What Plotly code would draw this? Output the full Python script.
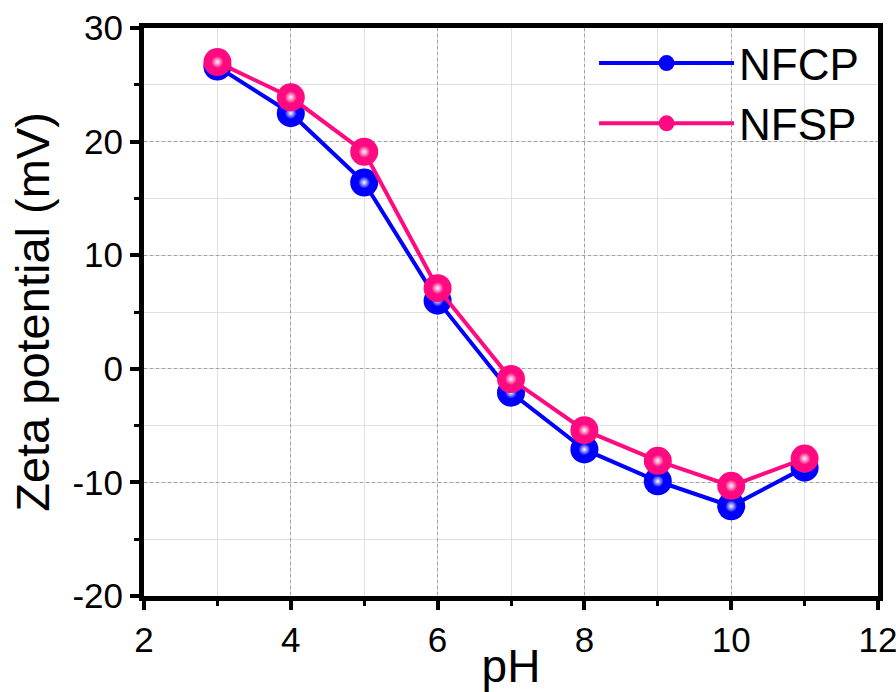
import plotly.graph_objects as go

ph = [3, 4, 5, 6, 7, 8, 9, 10, 11]
nfcp = [26.6, 22.5, 16.4, 6.0, -2.1, -7.1, -9.9, -12.1, -8.7]
nfsp = [27.0, 23.9, 19.1, 7.1, -0.9, -5.4, -8.1, -10.3, -7.9]

x_ticks = [2, 4, 6, 8, 10, 12]
y_ticks = [-20, -10, 0, 10, 20, 30]

blue = "#0000FF"
pink = "#FF0A80"
FONT = "Liberation Sans, Arial, sans-serif"

fig = go.Figure()

for name, ys, col in [("NFCP", nfcp, blue), ("NFSP", nfsp, pink)]:
    fig.add_trace(go.Scatter(
        x=ph, y=ys, name=name, mode="lines+markers",
        line=dict(color=col, width=4),
        marker=dict(size=28, color=col, line=dict(width=0)),
    ))
    fig.add_trace(go.Scatter(
        x=ph, y=ys, mode="markers", showlegend=False, hoverinfo="skip",
        marker=dict(size=12, color=col, line=dict(width=0),
                    gradient=dict(type="radial", color="white")),
    ))

axis_common = dict(
    showline=True, linewidth=5, linecolor="black", mirror=True,
    ticks="outside", ticklen=9, tickwidth=4, tickcolor="black",
    showgrid=True, gridcolor="#a0a0a0", griddash="dot", gridwidth=1,
    zeroline=False, automargin=False, ticklabeloverflow="allow",
    tickfont=dict(family=FONT, size=35, color="black"),
    minor=dict(ticks="outside", ticklen=5, tickwidth=3, tickcolor="black",
               showgrid=True, gridcolor="#e0e0e0", griddash="solid", gridwidth=1),
)

fig.update_xaxes(
    range=[2, 12], tickvals=x_ticks, ticktext=[str(v) for v in x_ticks],
    title=dict(text="pH", font=dict(family=FONT, size=46, color="black"), standoff=0),
    **axis_common,
)
fig.update_xaxes(minor=dict(dtick=1, tick0=3))
fig.update_yaxes(
    range=[-20, 30], tickvals=y_ticks, ticktext=[str(v) for v in y_ticks],
    title=dict(text="Zeta potential (mV)", font=dict(family=FONT, size=47, color="black"), standoff=9),
    **axis_common,
)
fig.update_yaxes(minor=dict(dtick=5, tick0=-15))

fig.update_layout(
    width=896, height=692,
    margin=dict(l=144, r=18, t=28, b=96),
    plot_bgcolor="white", paper_bgcolor="white",
    showlegend=True,
    legend=dict(x=0.981, y=1.0, xanchor="right", yanchor="top",
                bgcolor="rgba(0,0,0,0)", borderwidth=0,
                font=dict(family=FONT, size=44, color="black"),
                itemwidth=135, tracegroupgap=0),
)

fig.write_html("out.html")
